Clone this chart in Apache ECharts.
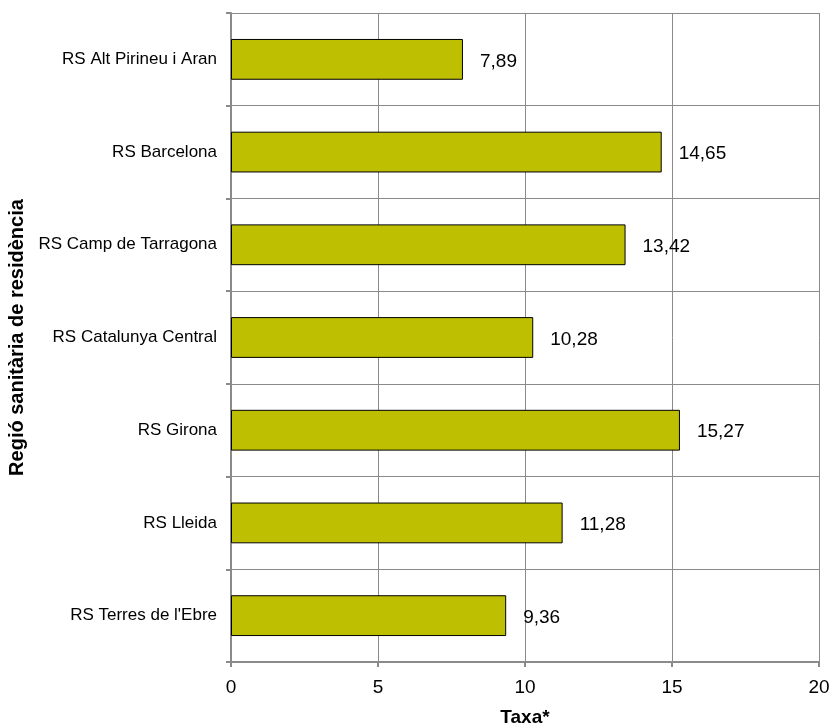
<!DOCTYPE html>
<html><head><meta charset="utf-8">
<script src="https://cdn.jsdelivr.net/npm/echarts@6/dist/echarts.min.js"></script>
<style>html,body{margin:0;padding:0;background:#fff}#c{width:834px;height:727px}</style>
</head><body><div id="c"></div>
<script>
const categories = ["RS Alt Pirineu i Aran","RS Barcelona","RS Camp de Tarragona","RS Catalunya Central","RS Girona","RS Lleida","RS Terres de l'Ebre"];
const values = [7.89,14.65,13.42,10.28,15.27,11.28,9.36];
const xTicks = [0,5,10,15,20];
const xTitle = "Taxa*";
const yTitle = "Regió sanitària de residència";

const chart = echarts.init(document.getElementById('c'), null, {renderer:'canvas'});
const gray = '#8a8a8a';
chart.setOption({
  animation:false,
  backgroundColor:'#fff',
  grid:{left:231,right:15,top:13,bottom:65,containLabel:false,outerBoundsMode:'none'},
  xAxis:{
    type:'value', min:xTicks[0], max:xTicks[xTicks.length-1], interval:5,
    name:xTitle, nameLocation:'middle', nameGap:46,
    nameTextStyle:{fontFamily:'Liberation Sans',fontWeight:'bold',fontSize:19,color:'#000'},
    axisLine:{show:true,lineStyle:{color:gray,width:2}},
    axisTick:{show:true,length:5,lineStyle:{color:gray,width:2}},
    axisLabel:{fontFamily:'Liberation Sans',fontSize:19,color:'#000',margin:16},
    splitLine:{show:true,lineStyle:{color:gray,width:1}}
  },
  yAxis:{
    type:'category', data:categories, inverse:true,
    name:yTitle, nameLocation:'middle', nameGap:202, nameRotate:90,
    nameTextStyle:{fontFamily:'Liberation Sans',fontWeight:'bold',fontSize:20,color:'#000'},
    axisLine:{show:true,lineStyle:{color:gray,width:2}},
    axisTick:{show:true,length:5,lineStyle:{color:gray,width:2}},
    axisLabel:{fontFamily:'Liberation Sans',fontSize:17,color:'#000',margin:14},
    splitLine:{show:true,lineStyle:{color:gray,width:1}}
  },
  series:[{
    type:'bar', data:values, barWidth:'44%',
    itemStyle:{color:'#bdbf00',borderColor:'#000',borderWidth:1},
    label:{show:true,position:'right',distance:17,offset:[0,2],
      formatter:p=>p.value.toFixed(2).replace('.',','),
      fontFamily:'Liberation Sans',fontSize:19,color:'#000'}
  }]
});
</script></body></html>
